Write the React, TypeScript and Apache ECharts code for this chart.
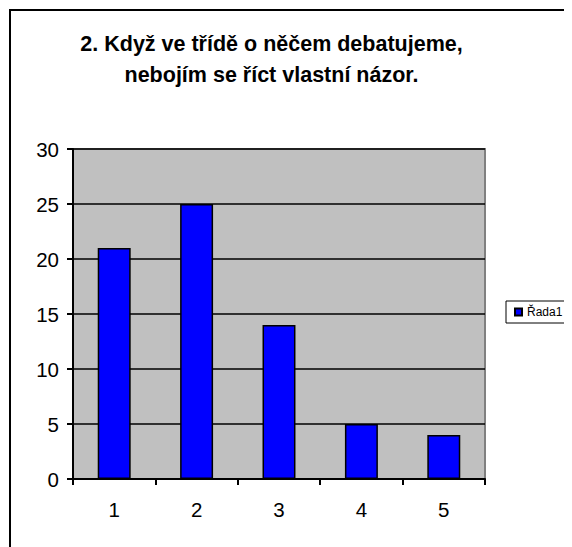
import React, { useEffect, useRef } from "react";
import * as echarts from "echarts";

const categories = ["1", "2", "3", "4", "5"];
const values = [21, 25, 14, 5, 4];
const seriesName = "Řada1";
const titleLines = ["2. Když ve třídě o něčem debatujeme,", "nebojím se říct vlastní názor."];
const yMin = 0;
const yMax = 30;
const yInterval = 5;

const FONT = "'Liberation Sans', Arial, sans-serif";

export default function App() {
  const ref = useRef<HTMLDivElement>(null);
  useEffect(() => {
    document.documentElement.style.overflow = "hidden";
    const chart = echarts.init(ref.current!, null, { renderer: "svg" });
    chart.setOption({
      animation: false,
      backgroundColor: "#ffffff",
      textStyle: { fontFamily: FONT },
      graphic: [
        {
          type: "rect",
          shape: { x: 2, y: 2, width: 700, height: 700 },
          style: { fill: "none", stroke: "#000", lineWidth: 2 },
          silent: true,
          z: 100,
        },
        {
          type: "text",
          x: 263.5,
          y: 20,
          style: {
            text: titleLines.join("\n"),
            fontFamily: FONT,
            fontSize: 21.5,
            fontWeight: "bold",
            lineHeight: 31,
            fill: "#000",
            align: "center",
            verticalAlign: "top",
          },
        },
      ],
      grid: {
        left: 65,
        top: 141,
        width: 412,
        height: 330,
        show: true,
        backgroundColor: "#C0C0C0",
        borderColor: "#808080",
        borderWidth: 2,
      },
      legend: {
        show: true,
        left: 498,
        top: 293,
        orient: "vertical",
        icon: "rect",
        itemWidth: 7,
        itemHeight: 7,
        itemGap: 4,
        padding: [5, 30, 5, 8],
        borderColor: "#000",
        borderWidth: 1,
        backgroundColor: "#fff",
        textStyle: { fontFamily: FONT, fontSize: 12, color: "#000", padding: [0, 0, 0, 0] },
        data: [seriesName],
      },
      xAxis: {
        type: "category",
        data: categories,
        boundaryGap: true,
        axisLine: { show: true, lineStyle: { color: "#000", width: 2 } },
        axisTick: { show: true, alignWithLabel: false, length: 6, lineStyle: { color: "#000", width: 2 } },
        axisLabel: { fontFamily: FONT, fontSize: 20.5, color: "#000", margin: 20 },
        splitLine: { show: false },
      },
      yAxis: {
        type: "value",
        min: yMin,
        max: yMax,
        interval: yInterval,
        axisLine: { show: true, lineStyle: { color: "#000", width: 2 } },
        axisTick: { show: true, length: 6, lineStyle: { color: "#000", width: 2 } },
        axisLabel: { fontFamily: FONT, fontSize: 20.5, color: "#000", margin: 14 },
        splitLine: { show: true, lineStyle: { color: "#000", width: 1.5 } },
      },
      series: [
        {
          name: seriesName,
          type: "bar",
          data: values,
          barCategoryGap: "60%",
          itemStyle: { color: "#0000FF", borderColor: "#000", borderWidth: 1.5 },
        },
      ],
    });
    return () => chart.dispose();
  }, []);
  return <div ref={ref} style={{ width: 564, height: 539 }} />;
}
